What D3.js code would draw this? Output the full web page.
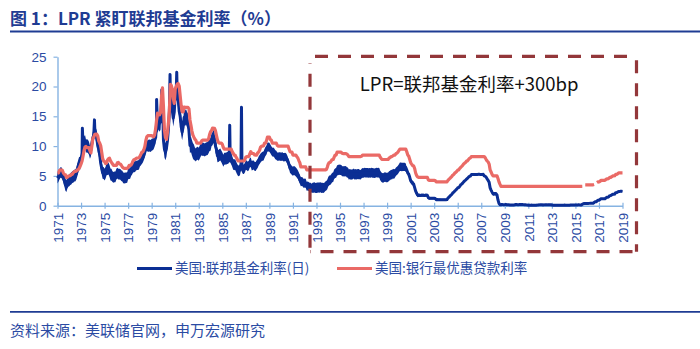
<!DOCTYPE html>
<html>
<head>
<meta charset="utf-8">
<script src="https://cdn.jsdelivr.net/npm/d3@7"></script>
<style>
  html, body { margin: 0; padding: 0; background: #ffffff; }
  svg { display: block; }
</style>
</head>
<body>
<svg id="chart" width="700" height="349"></svg>
<script>
// US effective federal funds rate, monthly averages, May 1971 - May 2019 (one row per year)
const fedFunds = [
  [4.63,4.91,5.31,5.57,5.55,5.20,4.91,4.14],
  [3.50,3.29,3.83,4.17,4.27,4.46,4.55,4.80,4.87,5.04,5.06,5.33],
  [5.94,6.58,7.09,7.12,7.84,8.49,10.40,10.50,10.78,10.01,10.03,9.95],
  [9.65,8.97,9.35,10.51,11.31,11.93,12.92,12.01,11.34,10.06,9.45,8.53],
  [7.13,6.24,5.54,5.49,5.22,5.55,6.10,6.14,6.24,5.82,5.22,5.20],
  [4.87,4.77,4.84,4.82,5.29,5.48,5.31,5.29,5.25,5.03,4.95,4.65],
  [4.61,4.68,4.69,4.73,5.35,5.39,5.42,5.90,6.14,6.47,6.51,6.56],
  [6.70,6.78,6.79,6.89,7.36,7.60,7.81,8.04,8.45,8.96,9.76,10.03],
  [10.07,10.06,10.09,10.01,10.24,10.29,10.47,10.94,11.43,13.77,13.18,13.78],
  [13.82,14.13,17.19,17.61,10.98,9.47,9.03,9.61,10.87,12.81,15.85,18.90],
  [19.08,15.93,14.70,15.72,18.52,19.10,19.04,17.82,15.87,15.08,13.31,12.37],
  [13.22,14.78,14.68,14.94,14.45,14.15,12.59,10.12,10.31,9.71,9.20,8.95],
  [8.68,8.51,8.77,8.80,8.63,8.98,9.37,9.56,9.45,9.48,9.34,9.47],
  [9.56,9.59,9.91,10.29,10.32,11.06,11.23,11.64,11.30,9.99,9.43,8.38],
  [8.35,8.50,8.58,8.27,7.97,7.53,7.88,7.90,7.92,7.99,8.05,8.27],
  [8.14,7.86,7.48,6.99,6.85,6.92,6.56,6.17,5.89,5.85,6.04,6.91],
  [6.43,6.10,6.13,6.37,6.85,6.73,6.58,6.73,7.22,7.29,6.69,6.77],
  [6.83,6.58,6.58,6.87,7.09,7.51,7.75,8.01,8.19,8.30,8.35,8.76],
  [9.12,9.36,9.85,9.84,9.81,9.53,9.24,8.99,9.02,8.84,8.55,8.45],
  [8.23,8.24,8.28,8.26,8.18,8.29,8.15,8.13,8.20,8.11,7.81,7.31],
  [6.91,6.25,6.12,5.91,5.78,5.90,5.82,5.66,5.45,5.21,4.81,4.43],
  [4.03,4.06,3.98,3.73,3.82,3.76,3.25,3.30,3.22,3.10,3.09,2.92],
  [3.02,3.03,3.07,2.96,3.00,3.04,3.06,3.03,3.09,2.99,3.02,2.96],
  [3.05,3.25,3.34,3.56,4.01,4.25,4.26,4.47,4.73,4.76,5.29,5.45],
  [5.53,5.92,5.98,6.05,6.01,6.00,5.85,5.74,5.80,5.76,5.80,5.60],
  [5.56,5.22,5.31,5.22,5.24,5.27,5.40,5.22,5.30,5.24,5.31,5.29],
  [5.25,5.19,5.39,5.51,5.50,5.56,5.52,5.54,5.54,5.50,5.52,5.50],
  [5.56,5.51,5.49,5.45,5.49,5.56,5.54,5.55,5.51,5.07,4.83,4.68],
  [4.63,4.76,4.81,4.74,4.74,4.76,4.99,5.07,5.22,5.20,5.42,5.30],
  [5.45,5.73,5.85,6.02,6.27,6.53,6.54,6.50,6.52,6.51,6.51,6.40],
  [5.98,5.49,5.31,4.80,4.21,3.97,3.77,3.65,3.07,2.49,2.09,1.82],
  [1.73,1.74,1.73,1.75,1.75,1.75,1.73,1.74,1.75,1.75,1.34,1.24],
  [1.24,1.26,1.25,1.26,1.26,1.22,1.01,1.03,1.01,1.01,1.00,0.98],
  [1.00,1.01,1.00,1.00,1.00,1.03,1.26,1.43,1.61,1.76,1.93,2.16],
  [2.28,2.50,2.63,2.79,3.00,3.04,3.26,3.50,3.62,3.78,4.00,4.16],
  [4.29,4.49,4.59,4.79,4.94,4.99,5.24,5.25,5.25,5.25,5.25,5.24],
  [5.25,5.26,5.26,5.25,5.25,5.25,5.26,5.02,4.94,4.76,4.49,4.24],
  [3.94,2.98,2.61,2.28,1.98,2.00,2.01,2.00,1.81,0.97,0.39,0.16],
  [0.15,0.22,0.18,0.15,0.18,0.21,0.16,0.16,0.15,0.12,0.12,0.12],
  [0.11,0.13,0.16,0.20,0.20,0.18,0.18,0.19,0.19,0.19,0.19,0.18],
  [0.17,0.16,0.14,0.10,0.09,0.09,0.07,0.10,0.08,0.07,0.08,0.07],
  [0.08,0.10,0.13,0.14,0.16,0.16,0.16,0.13,0.14,0.16,0.16,0.16],
  [0.14,0.15,0.14,0.15,0.11,0.09,0.09,0.08,0.08,0.09,0.08,0.09],
  [0.07,0.07,0.08,0.09,0.09,0.10,0.09,0.09,0.09,0.09,0.09,0.12],
  [0.11,0.11,0.11,0.12,0.12,0.13,0.13,0.14,0.14,0.12,0.12,0.24],
  [0.34,0.38,0.36,0.37,0.37,0.38,0.39,0.40,0.40,0.40,0.41,0.54],
  [0.65,0.66,0.79,0.90,0.91,1.04,1.15,1.16,1.15,1.15,1.16,1.30],
  [1.41,1.42,1.51,1.69,1.70,1.82,1.91,1.91,1.95,2.19,2.20,2.27],
  [2.40,2.40,2.41,2.42,2.39]
];

// Half-width of the daily fluctuation around the monthly average, per year (percentage points)
const fedDailySpread = [
  0.9,1.0,1.1,1.1,1.0,0.9,0.9,0.8,1.0,1.4,
  1.4,1.3,1.1,1.1,1.0,0.9,0.8,0.75,0.75,0.7,
  0.75,0.75,0.85,0.8,0.85,0.85,0.8,0.8,0.8,0.7,
  0.4,0.25,0.2,0.15,0.12,0.1,0.15,0.3,0.05,0.05,
  0.05,0.05,0.05,0.05,0.05,0.05,0.05,0.05,0.05
];

// Single-day spikes of the daily federal funds rate
const fedSpikeDates  = ["1973-06-25","1974-07-05","1979-10-15","1980-03-22","1980-12-05","1981-07-01","1985-12-31","1986-12-31"];
const fedSpikeValues = [13.0, 14.4, 17.8, 19.4, 22.0, 22.4, 13.5, 16.5];

// US bank prime loan rate, monthly, May 1971 - May 2019 (null = no quote)
const primeRate = [
  [5.46,5.50,5.91,6.00,6.00,5.91,5.47,5.25],
  [5.18,4.75,4.75,4.98,5.00,5.04,5.25,5.27,5.50,5.73,5.75,5.79],
  [6.00,6.02,6.30,6.60,7.01,7.49,8.30,9.23,9.86,9.94,9.75,9.75],
  [9.73,9.21,8.85,10.02,11.25,11.54,11.98,12.00,12.00,11.68,10.83,10.50],
  [10.05,8.96,7.93,7.50,7.40,7.07,7.15,7.66,7.88,7.96,7.53,7.26],
  [7.00,6.75,6.75,6.75,6.75,7.20,7.25,7.01,7.00,6.78,6.50,6.35],
  [6.25,6.25,6.25,6.25,6.41,6.75,6.75,6.83,7.13,7.52,7.75,7.75],
  [7.93,8.00,8.00,8.00,8.27,8.63,9.00,9.01,9.41,9.94,10.94,11.55],
  [11.75,11.75,11.75,11.75,11.75,11.65,11.54,11.91,12.90,14.39,15.55,15.30],
  [15.25,15.63,18.31,19.77,16.57,12.63,11.48,11.12,12.23,13.79,16.06,20.35],
  [20.16,19.43,18.05,17.15,19.61,20.03,20.39,20.50,20.08,18.45,16.84,15.75],
  [15.75,16.56,16.50,16.50,16.50,16.50,16.26,14.39,13.50,12.52,11.85,11.50],
  [11.16,10.98,10.50,10.50,10.50,10.50,10.50,10.89,11.00,11.00,11.00,11.00],
  [11.00,11.00,11.21,11.93,12.39,12.60,13.00,13.00,12.97,12.58,11.77,11.06],
  [10.61,10.50,10.50,10.50,10.31,9.78,9.50,9.50,9.50,9.50,9.50,9.50],
  [9.50,9.50,9.10,8.83,8.50,8.50,8.16,7.90,7.50,7.50,7.50,7.50],
  [7.50,7.50,7.50,7.75,8.14,8.25,8.25,8.25,8.70,9.07,8.78,8.75],
  [8.75,8.51,8.50,8.50,8.84,9.00,9.29,9.84,10.00,10.00,10.05,10.50],
  [10.50,10.93,11.50,11.50,11.50,11.07,10.98,10.50,10.50,10.50,10.50,10.50],
  [10.11,10.00,10.00,10.00,10.00,10.00,10.00,10.00,10.00,10.00,10.00,10.00],
  [9.52,9.05,9.00,9.00,8.50,8.50,8.50,8.50,8.20,8.00,7.58,7.21],
  [6.50,6.50,6.50,6.50,6.50,6.50,6.02,6.00,6.00,6.00,6.00,6.00],
  [6.00,6.00,6.00,6.00,6.00,6.00,6.00,6.00,6.00,6.00,6.00,6.00],
  [6.00,6.00,6.06,6.45,6.99,7.25,7.25,7.51,7.75,7.75,8.15,8.50],
  [8.50,9.00,9.00,9.00,9.00,9.00,8.80,8.75,8.75,8.75,8.75,8.65],
  [8.50,8.25,8.25,8.25,8.25,8.25,8.25,8.25,8.25,8.25,8.25,8.25],
  [8.25,8.25,8.30,8.50,8.50,8.50,8.50,8.50,8.50,8.50,8.50,8.50],
  [8.50,8.50,8.50,8.50,8.50,8.50,8.50,8.50,8.50,8.12,7.89,7.75],
  [7.75,7.75,7.75,7.75,7.75,7.75,8.00,8.06,8.25,8.25,8.37,8.50],
  [8.50,8.73,8.83,9.00,9.24,9.50,9.50,9.50,9.50,9.50,9.50,9.50],
  [9.05,8.50,8.32,7.80,7.24,6.98,6.75,6.67,6.28,5.53,5.10,4.84],
  [4.75,4.75,4.75,4.75,4.75,4.75,4.75,4.75,4.75,4.75,4.35,4.25],
  [4.25,4.25,4.25,4.25,4.25,4.22,4.00,4.00,4.00,4.00,4.00,4.00],
  [4.00,4.00,4.00,4.00,4.00,4.01,4.25,4.43,4.58,4.75,4.93,5.15],
  [5.25,5.49,5.58,5.75,5.98,6.01,6.25,6.44,6.59,6.75,7.00,7.15],
  [7.26,7.50,7.53,7.75,7.93,8.02,8.25,8.25,8.25,8.25,8.25,8.25],
  [8.25,8.25,8.25,8.25,8.25,8.25,8.25,8.25,8.03,7.74,7.50,7.33],
  [6.98,6.00,5.66,5.24,5.00,5.00,5.00,5.00,5.00,4.56,4.00,3.61],
  [3.25,3.25,3.25,3.25,3.25,3.25,3.25,3.25,3.25,3.25,3.25,3.25],
  [3.25,3.25,3.25,3.25,3.25,3.25,3.25,3.25,3.25,3.25,3.25,3.25],
  [3.25,3.25,3.25,3.25,3.25,3.25,3.25,3.25,3.25,3.25,3.25,3.25],
  [3.25,3.25,3.25,3.25,3.25,3.25,3.25,3.25,3.25,3.25,3.25,3.25],
  [3.25,3.25,3.25,3.25,3.25,3.25,3.25,3.25,3.25,3.25,3.25,3.25],
  [3.25,3.25,3.25,3.25,3.25,3.25,3.25,3.25,3.25,3.25,3.25,3.25],
  [3.25,3.25,3.25,3.25,3.25,3.25,3.25,3.25,3.25,3.25,3.25,3.26],
  [null,null,3.50,3.50,3.50,3.50,3.50,3.50,3.50,3.50,3.50,3.55],
  [null,null,3.88,4.00,4.00,4.05,4.25,4.25,4.25,4.25,4.25,4.40],
  [4.50,4.50,4.58,4.75,4.75,4.87,5.00,5.00,5.03,5.25,5.25,5.35],
  [5.50,5.50,5.50,5.50,5.50]
];

const firstYear = 1971;
const firstMonth = 5;            // series begin in May 1971
const tickYears = [1971,1973,1975,1977,1979,1981,1983,1985,1987,1989,1991,1993,1995,1997,1999,2001,2003,2005,2007,2009,2011,2013,2015,2017,2019];
const yTicks = [0,5,10,15,20,25];

const titleText = "图 1：LPR 紧盯联邦基金利率（%）";
const sourceText = "资料来源：美联储官网，申万宏源研究";
const noteText = "LPR=联邦基金利率+300bp";
const seriesNames = ["美国:联邦基金利率(日)", "美国:银行最优惠贷款利率"];

// ---- colours & fonts ----
const BLUE = "#0B2E94";
const RED = "#EA6A66";
const TEXT_BLUE = "#2B4BA3";
const DARK_BLUE = "#1F3C93";
const AXIS = "#86B3E2";
const BOX = "#93373A";
const CJK = "'Noto Sans CJK SC', 'Noto Sans', sans-serif";
const LATIN = "'Liberation Sans', Arial, sans-serif";

// ---- build point series ----
function toMonthly(rows) {
  const out = [];
  rows.forEach((row, i) => {
    const year = firstYear + i;
    const m0 = i === 0 ? firstMonth - 1 : 0;
    row.forEach((v, j) => out.push({ date: new Date(year, m0 + j, 15), value: v, yearIdx: i }));
  });
  return out;
}
const fedMonthly = toMonthly(fedFunds);
const primeMonthly = toMonthly(primeRate);
const fedSpikes = fedSpikeDates.map((d, i) => ({ date: d3.timeParse("%Y-%m-%d")(d), value: fedSpikeValues[i] }));
const fedLine = fedMonthly.concat(fedSpikes).sort((a, b) => a.date - b.date);

// ---- scales ----
const x = d3.scaleTime()
  .domain([new Date(firstYear, firstMonth - 1, 15), new Date(2019, firstMonth - 1, 15)])
  .range([57.5, 622.5]);
const y = d3.scaleLinear().domain([0, 25]).range([205.7, 56.7]);

const svg = d3.select("#chart");
svg.append("rect").attr("width", 700).attr("height", 349).attr("fill", "#fff");

// ---- title & rules ----
svg.append("text").attr("x", 10).attr("y", 25)
  .attr("font-family", CJK).attr("font-size", 17).attr("font-weight", 700)
  .attr("fill", DARK_BLUE).text(titleText);
svg.append("line").attr("x1", 10).attr("x2", 700).attr("y1", 31.5).attr("y2", 31.5)
  .attr("stroke", DARK_BLUE).attr("stroke-width", 1.8);
svg.append("line").attr("x1", 10).attr("x2", 700).attr("y1", 311.8).attr("y2", 311.8)
  .attr("stroke", DARK_BLUE).attr("stroke-width", 1.8);
svg.append("text").attr("x", 10).attr("y", 335.5)
  .attr("font-family", CJK).attr("font-size", 15).attr("fill", TEXT_BLUE).text(sourceText);

// ---- axes ----
const yAxis = svg.append("g").attr("transform", "translate(57.5,0)")
  .call(d3.axisLeft(y).tickValues(yTicks).tickSize(4).tickSizeOuter(0).tickPadding(7));
yAxis.select(".domain").attr("stroke", AXIS).attr("stroke-width", 1.4);
yAxis.selectAll(".tick line").attr("stroke", AXIS).attr("stroke-width", 1.2);
yAxis.selectAll(".tick text").attr("font-family", LATIN).attr("font-size", 13.5).attr("fill", TEXT_BLUE);

const tickDates = tickYears.map(yr => new Date(yr, firstMonth - 1, 15));
const xAxis = svg.append("g").attr("transform", `translate(0,${y(0)})`)
  .call(d3.axisBottom(x).tickValues(tickDates).tickFormat(d3.timeFormat("%Y")).tickSize(3).tickSizeOuter(0));
xAxis.select(".domain").attr("stroke", AXIS).attr("stroke-width", 1.4);
xAxis.selectAll(".tick line").attr("stroke", AXIS).attr("stroke-width", 1.2).attr("y1", -3).attr("y2", 3);
xAxis.selectAll(".tick text")
  .attr("font-family", LATIN).attr("font-size", 13.5).attr("fill", TEXT_BLUE)
  .attr("text-anchor", "end").attr("dy", "0.35em")
  .attr("transform", "translate(0,7) rotate(-90)")
  .attr("x", 0).attr("y", 0);

// ---- federal funds: daily range band + line ----
const band = d3.area()
  .x(d => x(d.date))
  .y0(d => y(Math.max(0, d.value - fedDailySpread[d.yearIdx])))
  .y1(d => y(d.value + fedDailySpread[d.yearIdx]));
svg.append("path").datum(fedMonthly).attr("d", band).attr("fill", BLUE);

const line = d3.line().defined(d => d.value != null).x(d => x(d.date)).y(d => y(d.value));
svg.append("path").datum(fedLine).attr("d", line)
  .attr("fill", "none").attr("stroke", BLUE).attr("stroke-width", 3)
  .attr("stroke-linejoin", "round");

// ---- prime rate ----
svg.append("path").datum(primeMonthly).attr("d", line)
  .attr("fill", "none").attr("stroke", RED).attr("stroke-width", 3.2)
  .attr("stroke-linejoin", "round");

// ---- dashed annotation box ----
const bx0 = 310, bx1 = 636.5, by0 = 56.3, by1 = 251.7;
const boxSides = [
  [bx0 + 5, by0, bx1, by0],
  [bx1, by0 + 4, bx1, by1],
  [bx1 - 4, by1, bx0, by1],
  [bx0, by1 - 4, bx0, by0 + 7]
];
svg.append("g").selectAll("line").data(boxSides).join("line")
  .attr("x1", d => d[0]).attr("y1", d => d[1]).attr("x2", d => d[2]).attr("y2", d => d[3])
  .attr("stroke", BOX).attr("stroke-width", 3.2).attr("stroke-dasharray", "13,10");

svg.append("text").attr("x", 469).attr("y", 91).attr("text-anchor", "middle")
  .attr("font-family", CJK).attr("font-size", 18.5).attr("fill", "#111")
  .text(noteText);

// ---- legend ----
const legend = [
  { name: seriesNames[0], color: BLUE, x: 137 },
  { name: seriesNames[1], color: RED, x: 337 }
];
const lg = svg.append("g").selectAll("g").data(legend).join("g");
lg.append("line").attr("x1", d => d.x).attr("x2", d => d.x + 35)
  .attr("y1", 268.5).attr("y2", 268.5).attr("stroke", d => d.color).attr("stroke-width", 3);
lg.append("text").attr("x", d => d.x + 38).attr("y", 268.5).attr("dy", "0.35em")
  .attr("font-family", CJK).attr("font-size", 13.5).attr("fill", TEXT_BLUE)
  .text(d => d.name);
</script>
</body>
</html>
